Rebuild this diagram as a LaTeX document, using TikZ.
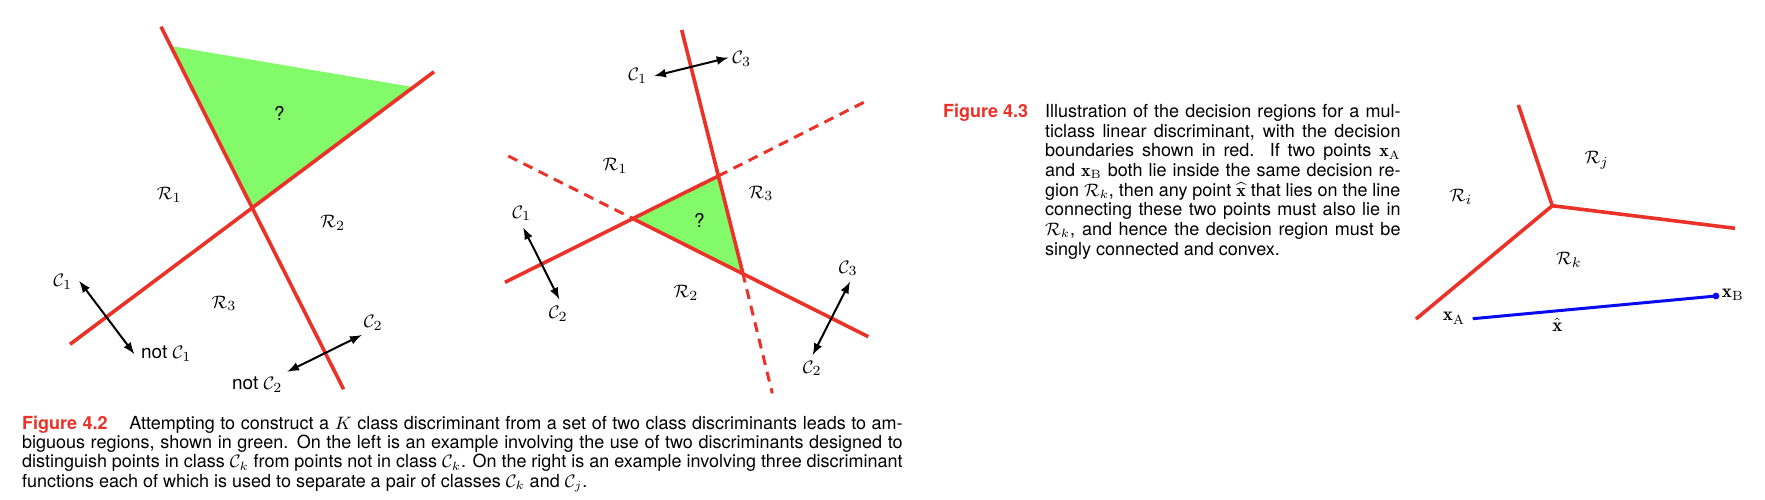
\documentclass[tikz,border=0pt]{standalone}
\usepackage{amsmath,amssymb}
\usepackage{fontspec}
\usepackage{tikz}
\usetikzlibrary{positioning}
\newfontfamily\capfont{TeX Gyre Heros}
\definecolor{bndred}{RGB}{235,50,40}
\definecolor{ambgreen}{RGB}{130,250,105}
\definecolor{segblue}{RGB}{10,10,240}

\begin{document}
\begin{tikzpicture}[
    x=0.5pt, y=-0.5pt,
    boundary/.style={bndred, line width=1.8pt},
    dashbound/.style={bndred, line width=1.5pt, dash pattern=on 5pt off 3.5pt},
    arrow/.style={<->, >=latex, line width=1pt},
    lbl/.style={font=\fontsize{9.5}{11}\selectfont, inner sep=0pt},
    sflbl/.style={font=\capfont\fontsize{9.5}{11}\selectfont, inner sep=0pt},
    caption/.style={inner sep=0pt, anchor=base west, align=justify}
]
    \useasboundingbox (0,0) rectangle (1765,499);

    % Left: two one-versus-rest discriminants
    \coordinate (a1) at (161,26.7);
    \coordinate (a2) at (343.6,389.3);
    \coordinate (b1) at (70,344.3);
    \coordinate (b2) at (434,71.7);
    \coordinate (cross) at (252.3,208);
    \coordinate (g1) at (170.7,46);
    \coordinate (g2) at (412.7,87);
    \fill[ambgreen] (g1) -- (g2) -- (cross) -- cycle;
    \draw[boundary] (a1) -- (a2);
    \draw[boundary] (b1) -- (b2);

    \node[sflbl] (qL) at (279.3,113.3) {?};
    \node[lbl] (r1L) at (169.3,195) {$\mathcal{R}_1$};
    \node[lbl] (r2L) at (332.7,222.7) {$\mathcal{R}_2$};
    \node[lbl] (r3L) at (224,303.3) {$\mathcal{R}_3$};

    \coordinate (c1a) at (79.3,281);
    \coordinate (c1b) at (134.3,354);
    \draw[arrow] (c1a) -- (c1b);
    \node[lbl] (c1L) at (62.7,281.7) {$\mathcal{C}_1$};
    \node[sflbl, anchor=west] (notc1) at (140.7,354) {not $\mathcal{C}_1$};

    \coordinate (c2a) at (361.7,335);
    \coordinate (c2b) at (287.3,371.7);
    \draw[arrow] (c2a) -- (c2b);
    \node[lbl] (c2L) at (373.3,322.7) {$\mathcal{C}_2$};
    \node[sflbl] (notc2) at (257.2,385) {not $\mathcal{C}_2$};

    % Middle: one-versus-one discriminants
    \coordinate (p1) at (681.7,30);
    \coordinate (v3) at (718.3,176);
    \coordinate (v2) at (742.7,272.7);
    \coordinate (p2) at (772.3,393.3);
    \coordinate (q1) at (505,282.3);
    \coordinate (v1) at (632.3,218.3);
    \coordinate (q2) at (868.3,100);
    \coordinate (s1) at (508.3,156);
    \coordinate (s2) at (868.3,336.7);
    \fill[ambgreen] (v1) -- (v3) -- (v2) -- cycle;
    \draw[boundary] (p1) -- (v2);
    \draw[dashbound] (v2) -- (p2);
    \draw[boundary] (q1) -- (v3);
    \draw[dashbound] (v3) -- (q2);
    \draw[dashbound] (s1) -- (v1);
    \draw[boundary] (v1) -- (s2);

    \node[sflbl] (qM) at (699.3,220) {?};
    \node[lbl] (r1M) at (615,165.7) {$\mathcal{R}_1$};
    \node[lbl] (r2M) at (686,292.7) {$\mathcal{R}_2$};
    \node[lbl] (r3M) at (761,193.3) {$\mathcal{R}_3$};

    \coordinate (t13a) at (654.3,76);
    \coordinate (t13b) at (728.3,57.7);
    \draw[arrow] (t13a) -- (t13b);
    \node[lbl] (t13L1) at (637.7,76) {$\mathcal{C}_1$};
    \node[lbl] (t13L3) at (741.7,59) {$\mathcal{C}_3$};

    \coordinate (t12a) at (523.3,227.7);
    \coordinate (t12b) at (559.3,299.3);
    \draw[arrow] (t12a) -- (t12b);
    \node[lbl] (t12L1) at (521.7,213.3) {$\mathcal{C}_1$};
    \node[lbl] (t12L2) at (558.3,314) {$\mathcal{C}_2$};

    \coordinate (t23a) at (850,281.7);
    \coordinate (t23b) at (812.7,355);
    \draw[arrow] (t23a) -- (t23b);
    \node[lbl] (t23L3) at (848.3,268.3) {$\mathcal{C}_3$};
    \node[lbl] (t23L2) at (812.3,368.3) {$\mathcal{C}_2$};

    % Caption 4.2
    \node[caption, text width=440.3pt, font=\capfont\fontsize{9}{9.65}\selectfont] (cap42) at (21.7,429.3) {\hyphenpenalty=10000
        {\bfseries\color{bndred}Figure 4.2}\hspace{10.8pt}Attempting to construct a $K$ class discriminant from a set of two class discriminants leads to am-\linebreak
        biguous regions, shown in green.  On the left is an example involving the use of two discriminants designed to\linebreak
        distinguish points in class $\mathcal{C}_k$ from points not in class $\mathcal{C}_k$. On the right is an example involving three discriminant\linebreak
        functions each of which is used to separate a pair of classes $\mathcal{C}_k$ and $\mathcal{C}_j$.};

    % Caption 4.3
    \node[caption, font=\capfont\bfseries\fontsize{9}{9.85}\selectfont, text=bndred] (fig43) at (942.7,117.3) {Figure 4.3};
    \node[caption, text width=177.7pt, font=\capfont\fontsize{9}{9.85}\selectfont] (cap43) at (1044.7,117.3) {\hyphenpenalty=10000
        Illustration of the decision regions for a mul-\linebreak
        ticlass linear discriminant, with the decision\linebreak
        boundaries shown in red.  If two points $\mathbf{x}_\mathrm{A}$\linebreak
        and $\mathbf{x}_\mathrm{B}$ both lie inside the same decision re-\linebreak
        gion $\mathcal{R}_k$, then any point $\widehat{\mathbf{x}}$ that lies on the line\linebreak
        connecting these two points must also lie in\linebreak
        $\mathcal{R}_k$, and hence the decision region must be\linebreak
        singly connected and convex.};

    % Right: convex decision regions
    \coordinate (junc) at (1552.3,205.7);
    \coordinate (eU) at (1518.3,105);
    \coordinate (eR) at (1735,228.3);
    \coordinate (eL) at (1416,319);
    \draw[boundary] (eU) -- (junc) -- (eR);
    \draw[boundary] (junc) -- (eL);

    \node[lbl] (ri) at (1461,196.7) {$\mathcal{R}_i$};
    \node[lbl] (rj) at (1596.7,160) {$\mathcal{R}_j$};
    \node[lbl] (rk) at (1569,260) {$\mathcal{R}_k$};

    \coordinate (ptA) at (1472.7,318.7);
    \coordinate (ptB) at (1716,296);
    \draw[segblue, line width=1.5pt] (ptA) -- (ptB);
    \fill[segblue] (ptB) circle (1.7pt);
    \node[lbl] (xA) at (1454,318.3) {$\mathbf{x}_\mathrm{A}$};
    \node[lbl] (xB) at (1732.8,295) {$\mathbf{x}_\mathrm{B}$};
    \node[lbl] (xhat) at (1557.3,325) {$\hat{\mathbf{x}}$};
\end{tikzpicture}
\end{document}
